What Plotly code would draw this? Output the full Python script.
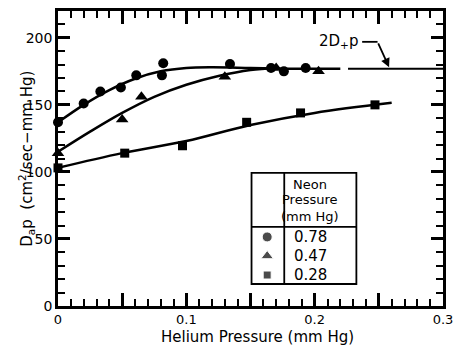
import plotly.graph_objects as go

# ---- data ----
he_078 = [0.0, 0.02, 0.033, 0.049, 0.061, 0.081, 0.082, 0.134, 0.166, 0.176, 0.193]
dp_078 = [137, 151, 160, 163, 172, 172, 181, 180.5, 177.5, 175, 177.5]

he_047 = [0.0, 0.050, 0.065, 0.130, 0.170, 0.203]
dp_047 = [114, 139, 156, 171, 177.5, 175]

he_028 = [0.0, 0.052, 0.097, 0.147, 0.189, 0.247]
dp_028 = [103, 114, 119.5, 137, 144, 150]

curve_078_x = [0.0, 0.02, 0.04, 0.06, 0.08, 0.10, 0.12, 0.15, 0.18, 0.22]
curve_078_y = [137, 150, 161, 169.5, 175, 177.5, 178, 177.5, 177, 177]

curve_047_x = [0.0, 0.025, 0.05, 0.075, 0.10, 0.125, 0.15, 0.17]
curve_047_y = [115, 130, 144, 156, 165, 171.5, 176, 177.5]

curve_028_x = [0.0, 0.05, 0.10, 0.15, 0.20, 0.26]
curve_028_y = [103, 114, 123, 135, 144, 151.5]

limit_x = [0.226, 0.30]
limit_y = [177, 177]

x_tick_vals = [0, 0.05, 0.1, 0.15, 0.2, 0.25, 0.3]
x_tick_text = ["0", "", "0.1", "", "0.2", "", "0.3"]
y_tick_vals = [0, 50, 100, 150, 200]

legend_labels = ["0.78", "0.47", "0.28"]
legend_symbols = ["circle", "triangle-up", "square"]

FONT = "DejaVu Sans"
BLK = "black"
XMAX, YMAX = 0.3, 220

fig = go.Figure()

for cx, cy in [(curve_078_x, curve_078_y), (curve_047_x, curve_047_y), (curve_028_x, curve_028_y)]:
    fig.add_trace(go.Scatter(x=cx, y=cy, mode="lines", line=dict(color=BLK, width=2.5, shape="spline"),
                             showlegend=False, hoverinfo="skip"))
fig.add_trace(go.Scatter(x=limit_x, y=limit_y, mode="lines", line=dict(color=BLK, width=2),
                         showlegend=False))

for hx, dy, sym, sz in [(he_078, dp_078, "circle", 10), (he_047, dp_047, "triangle-up", 11),
                        (he_028, dp_028, "square", 9)]:
    fig.add_trace(go.Scatter(x=hx, y=dy, mode="markers", marker=dict(symbol=sym, size=sz, color=BLK),
                             showlegend=False, cliponaxis=False))

# legend table
tx0, tx1, txd = 0.1508, 0.2325, 0.1763
ty0, ty1, tyd = 16.4, 99.3, 59.0
shapes = [
    dict(type="rect", x0=tx0, x1=tx1, y0=ty0, y1=ty1, xref="x", yref="y", line=dict(color=BLK, width=1.8),
         fillcolor="rgba(0,0,0,0)"),
    dict(type="line", x0=txd, x1=txd, y0=ty0, y1=ty1, xref="x", yref="y", line=dict(color=BLK, width=1.8)),
    dict(type="line", x0=tx0, x1=tx1, y0=tyd, y1=tyd, xref="x", yref="y", line=dict(color=BLK, width=1.8)),
    dict(type="line", x0=0.237, x1=0.249, y0=197, y1=197, xref="x", yref="y", line=dict(color=BLK, width=1.8)),
]
row_y = [51.5, 37.3, 23.1]
fig.add_trace(go.Scatter(x=[0.163] * 3, y=row_y, mode="markers",
                         marker=dict(symbol=legend_symbols, size=[10, 11, 8], color=BLK),
                         showlegend=False))

ann = []
for txt, yy in [("Neon", 90.3), ("Pressure", 79.1), ("(mm Hg)", 66.4)]:
    ann.append(dict(x=0.1965, y=yy, xref="x", yref="y", text=txt, showarrow=False,
                    font=dict(family=FONT, size=13, color=BLK)))
for txt, yy in zip(legend_labels, row_y):
    ann.append(dict(x=0.1965, y=yy, xref="x", yref="y", text=txt, showarrow=False,
                    font=dict(family=FONT, size=15, color=BLK)))

ann.append(dict(x=0.2355, y=197, xref="x", yref="y", text="2D<sub>+</sub>p", showarrow=False,
                xanchor="right", font=dict(family=FONT, size=15, color=BLK)))
ann.append(dict(x=0.258, y=178, xref="x", yref="y", ax=0.249, ay=197, axref="x", ayref="y",
                text="", showarrow=True, arrowhead=2, arrowsize=1, arrowwidth=1.8, arrowcolor=BLK))

ann.append(dict(x=-0.115, y=0.5, xref="paper", yref="paper", textangle=-90, showarrow=False,
                text="D<sub>a</sub>p  (cm<sup>2</sup>/sec−mm Hg)", font=dict(family=FONT, size=15, color=BLK)))
ann.append(dict(x=0.5175, y=-(337 - 306) / 295, xref="paper", yref="paper", showarrow=False, yanchor="middle",
                text="Helium Pressure (mm Hg)", font=dict(family=FONT, size=15, color=BLK)))

fig.update_layout(
    width=461, height=345, margin=dict(l=58, r=8, t=11, b=39),
    plot_bgcolor="white", paper_bgcolor="white",
    shapes=shapes, annotations=ann, showlegend=False,
    xaxis=dict(range=[0, XMAX], showgrid=False, zeroline=False, showline=True, linecolor=BLK, linewidth=2.5,
               mirror="allticks", ticks="inside", ticklen=13, tickwidth=2.5, tickcolor=BLK,
               tickmode="array", tickvals=x_tick_vals, ticktext=x_tick_text,
               tickfont=dict(family=FONT, size=13, color=BLK),
               minor=dict(ticks="inside", tick0=0, dtick=0.01, ticklen=7, tickwidth=2, tickcolor=BLK)),
    yaxis=dict(range=[0, YMAX], showgrid=False, zeroline=False, showline=True, linecolor=BLK, linewidth=2.5,
               mirror="allticks", ticks="inside", ticklen=12, tickwidth=2.5, tickcolor=BLK,
               tickmode="array", tickvals=y_tick_vals,
               tickfont=dict(family=FONT, size=14, color=BLK),
               minor=dict(ticks="inside", tick0=0, dtick=10, ticklen=7, tickwidth=2, tickcolor=BLK)),
)

fig.write_html("out.html")
